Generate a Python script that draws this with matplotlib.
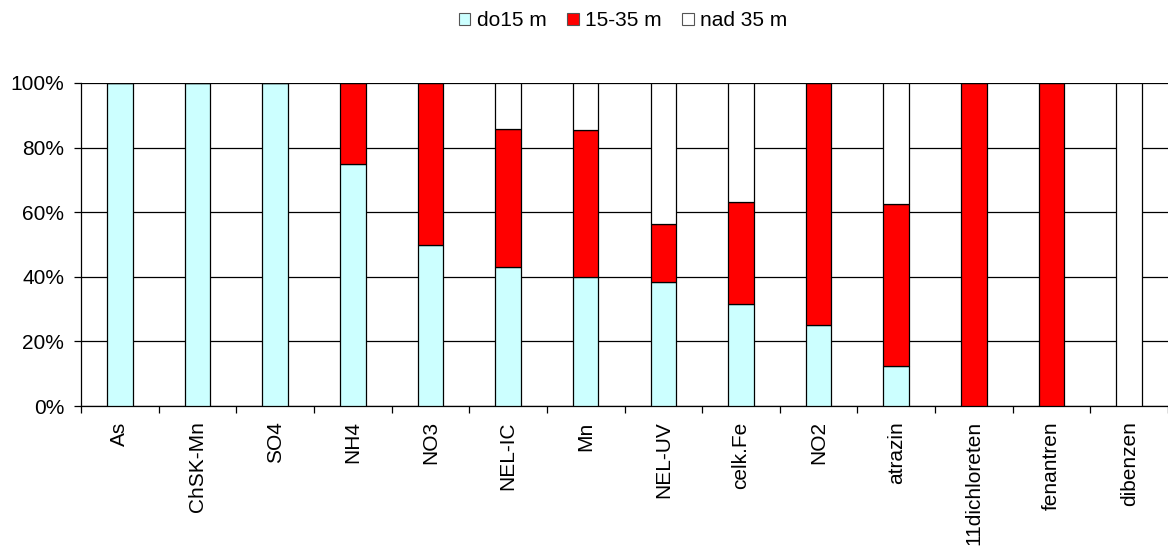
import matplotlib
matplotlib.use("Agg")
import matplotlib.pyplot as plt
from matplotlib.patches import Patch
from matplotlib.ticker import FixedLocator, PercentFormatter
import numpy as np

plt.rcParams['font.family'] = ['Liberation Sans', 'DejaVu Sans']

categories = ["As", "ChSK-Mn", "SO4", "NH4", "NO3", "NEL-IC", "Mn", "NEL-UV",
              "celk.Fe", "NO2", "atrazin", "11dichloreten", "fenantren", "dibenzen"]
do15 = [100, 100, 100, 75, 50, 42.9, 40.0, 38.4, 31.6, 25, 12.5, 0, 0, 0]
m15_35 = [0, 0, 0, 25, 50, 42.8, 45.4, 18.0, 31.7, 75, 50.0, 100, 100, 0]
nad35 = [0, 0, 0, 0, 0, 14.3, 14.6, 43.6, 36.7, 0, 37.5, 0, 0, 100]
series_names = ["do15 m", "15-35 m", "nad 35 m"]
colors = ["#CCFFFF", "#FF0000", "#FFFFFF"]

FS = 15

fig = plt.figure(figsize=(11.68, 5.55), dpi=100)
ax = fig.add_axes([81 / 1168, 1 - 406 / 555, 1 - 81 / 1168, 323 / 555])

x = np.arange(len(categories))
bottom = np.zeros(len(categories))
for vals, col in zip([do15, m15_35, nad35], colors):
    vals = np.array(vals, dtype=float)
    ax.bar(x, vals, bottom=bottom, width=0.33, color=col, edgecolor="black",
           linewidth=0.9, zorder=3)
    bottom += vals

ax.set_xlim(-0.5, len(categories) - 0.5)
ax.set_ylim(0, 100)
ax.set_yticks([0, 20, 40, 60, 80, 100])
ax.yaxis.set_major_formatter(PercentFormatter(decimals=0))
ax.grid(axis="y", color="black", linewidth=0.9, zorder=0)

ax.xaxis.set_major_locator(FixedLocator(np.arange(-0.5, len(categories), 1.0)))
ax.set_xticklabels([])
ax.xaxis.set_minor_locator(FixedLocator(x))
ax.set_xticklabels(categories, minor=True, rotation=90, va="top", ha="center")
ax.tick_params(axis="x", which="minor", length=0, pad=11, labelsize=FS)
ax.tick_params(axis="x", which="major", length=5, width=0.9, direction="out")
ax.tick_params(axis="y", length=5, width=0.9, direction="out", labelsize=FS, pad=7)

for side in ["top", "right"]:
    ax.spines[side].set_visible(False)
ax.spines["left"].set_linewidth(0.9)
ax.spines["bottom"].set_linewidth(0.9)

handles = [Patch(facecolor=c, edgecolor="#555555", linewidth=0.8) for c in colors]
fig.legend(handles, series_names, loc="center", bbox_to_anchor=(623 / 1168, 1 - 21 / 555),
           ncol=3, frameon=False, fontsize=FS, handlelength=0.55, handleheight=0.55,
           handletextpad=0.3, columnspacing=1.0)

fig.savefig("out.png", dpi=100)
